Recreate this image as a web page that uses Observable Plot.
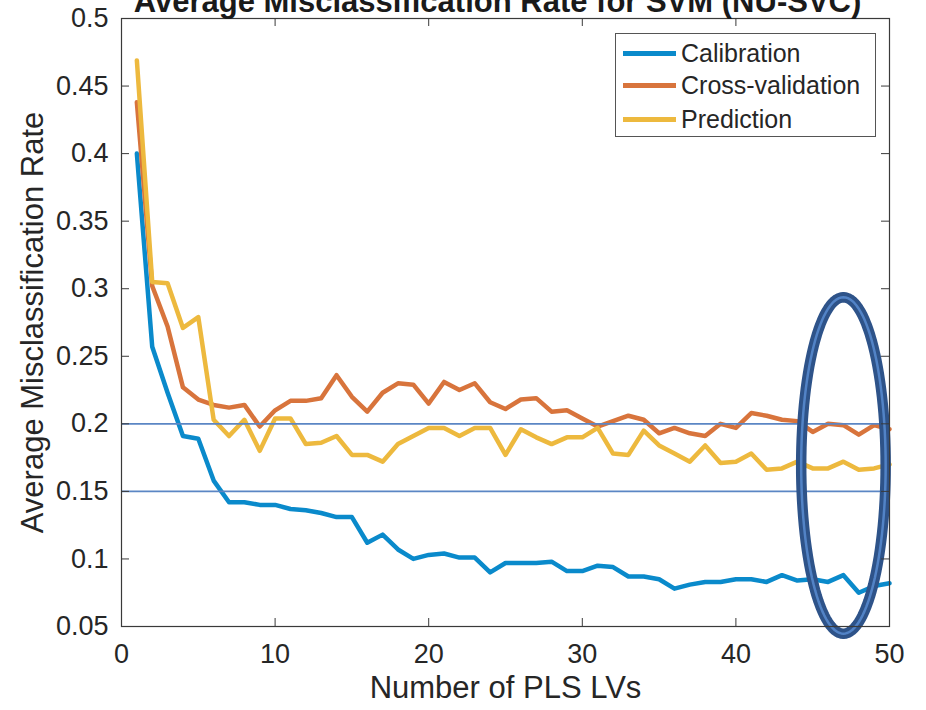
<!DOCTYPE html>
<html>
<head>
<meta charset="utf-8">
<script src="https://cdn.jsdelivr.net/npm/d3@7"></script>
<script src="https://cdn.jsdelivr.net/npm/@observablehq/plot@0.6"></script>
<style>
  html, body { margin: 0; padding: 0; background: #fff; }
  #wrap { position: relative; width: 926px; height: 710px; overflow: hidden; }
  #legend { position: absolute; left: 615px; top: 33px; width: 259px; height: 102px;
    border: 1px solid #555; background: #fff; font-family: "Liberation Sans", Arial, sans-serif;
    font-size: 25px; color: #262626; }
  .row { position: absolute; left: 0; height: 30px; display: flex; align-items: center; }
  .sw { width: 53px; height: 5px; margin-left: 7px; margin-right: 5px; }
</style>
</head>
<body>
<div id="wrap"></div>
<script>
const title = "Average Misclassification Rate for SVM (NU-SVC)";
const xLabel = "Number of PLS LVs";
const yLabel = "Average Misclassification Rate";
const seriesNames = ["Calibration", "Cross-validation", "Prediction"];
const seriesColors = ["#0a8acb", "#d8743c", "#edb93e"];

const lvs = [1,2,3,4,5,6,7,8,9,10,11,12,13,14,15,16,17,18,19,20,21,22,23,24,25,
             26,27,28,29,30,31,32,33,34,35,36,37,38,39,40,41,42,43,44,45,46,47,48,49,50];

const calibration = [0.400,0.257,0.223,0.191,0.189,0.158,0.142,0.142,0.140,0.140,
                     0.137,0.136,0.134,0.131,0.131,0.112,0.118,0.107,0.100,0.103,
                     0.104,0.101,0.101,0.090,0.097,0.097,0.097,0.098,0.091,0.091,
                     0.095,0.094,0.087,0.087,0.085,0.078,0.081,0.083,0.083,0.085,
                     0.085,0.083,0.088,0.084,0.085,0.083,0.088,0.075,0.080,0.082];

const crossValidation = [0.438,0.302,0.272,0.227,0.218,0.214,0.212,0.214,0.198,0.210,
                         0.217,0.217,0.219,0.236,0.220,0.209,0.223,0.230,0.229,0.215,
                         0.231,0.225,0.230,0.216,0.211,0.218,0.219,0.209,0.210,0.204,
                         0.198,0.202,0.206,0.203,0.193,0.197,0.193,0.191,0.200,0.197,
                         0.208,0.206,0.203,0.202,0.194,0.200,0.199,0.192,0.199,0.196];

const prediction = [0.469,0.305,0.304,0.271,0.279,0.203,0.191,0.203,0.180,0.204,
                    0.204,0.185,0.186,0.191,0.177,0.177,0.172,0.185,0.191,0.197,
                    0.197,0.191,0.197,0.197,0.177,0.196,0.190,0.185,0.190,0.190,
                    0.197,0.178,0.177,0.195,0.184,0.178,0.172,0.184,0.171,0.172,
                    0.178,0.166,0.167,0.172,0.167,0.167,0.172,0.166,0.167,0.170];

const xTicks = [0,10,20,30,40,50];
const yTicks = [0.05,0.1,0.15,0.2,0.25,0.3,0.35,0.4,0.45,0.5];
const refLines = [0.2, 0.15];
// highlight ellipse (center / radii in data units)
const ellipseCenter = [47, 0.1692];
const ellipseRadii = [2.75, 0.1245];

const seriesValues = [calibration, crossValidation, prediction];
const rows = [];
seriesValues.forEach((vals, s) => vals.forEach((v, i) => rows.push({lv: lvs[i], value: v, series: seriesNames[s]})));

const ellipsePts = d3.range(0, 361, 3).map(a => {
  const t = a * Math.PI / 180;
  return {x: ellipseCenter[0] + ellipseRadii[0] * Math.cos(t), y: ellipseCenter[1] + ellipseRadii[1] * Math.sin(t)};
});

const W = 926, H = 710, mL = 121, mR = 37, mT = 18, mB = 84;
const pw = W - mL - mR, ph = H - mT - mB;
const tickLen = 8;
const axisColor = "#3a3a3a";

const chart = Plot.plot({
  width: W, height: H,
  marginLeft: mL, marginRight: mR, marginTop: mT, marginBottom: mB,
  x: {domain: [0, 50]},
  y: {domain: [0.05, 0.5]},
  color: {domain: seriesNames, range: seriesColors},
  style: {fontFamily: "'Liberation Sans', Arial, sans-serif", color: "#262626", background: "#fff", overflow: "hidden"},
  marks: [
    Plot.line(rows, {x: "lv", y: "value", z: "series", stroke: "series", strokeWidth: 4.5, strokeLinejoin: "round"}),
    Plot.ruleY(refLines, {stroke: "#5b86c4", strokeWidth: 1.8}),
    Plot.line(ellipsePts, {x: "x", y: "y", stroke: "#2e5389", strokeWidth: 10.5}),
    Plot.line(ellipsePts, {x: "x", y: "y", stroke: "#5283c6", strokeWidth: 2.5}),
    Plot.tickY(yTicks, {insetRight: pw - tickLen, stroke: axisColor}),
    Plot.tickY(yTicks, {insetLeft: pw - tickLen, stroke: axisColor}),
    Plot.tickX(xTicks, {insetTop: ph - tickLen, stroke: axisColor}),
    Plot.tickX(xTicks, {insetBottom: ph - tickLen, stroke: axisColor}),
    Plot.frame({stroke: axisColor, strokeWidth: 1.2}),
    Plot.axisX(xTicks, {tickSize: 0, tickPadding: 17, fontSize: 27, label: null, fill: "#262626"}),
    Plot.axisY(yTicks, {tickSize: 0, tickPadding: 13, fontSize: 27, label: null, fill: "#262626",
      tickFormat: d => String(+d.toFixed(2))}),
    Plot.text([xLabel], {frameAnchor: "bottom", dy: 62, lineAnchor: "middle", fontSize: 31, fill: "#262626"}),
    Plot.text([yLabel], {frameAnchor: "left", textAnchor: "middle", rotate: -90, dx: -88, lineAnchor: "middle", fontSize: 31, fill: "#262626"}),
    Plot.text([title], {frameAnchor: "top", dy: -16, dx: -8, lineAnchor: "middle", fontSize: 31, fontWeight: "bold", fill: "#1a1a1a"})
  ]
});

const wrap = document.getElementById("wrap");
wrap.appendChild(chart);

const legend = document.createElement("div");
legend.id = "legend";
const rowTops = [4, 36, 70];
seriesNames.forEach((name, i) => {
  const r = document.createElement("div");
  r.className = "row";
  r.style.top = rowTops[i] + "px";
  const sw = document.createElement("div");
  sw.className = "sw";
  sw.style.background = seriesColors[i];
  const t = document.createElement("span");
  t.textContent = name;
  r.appendChild(sw); r.appendChild(t);
  legend.appendChild(r);
});
wrap.appendChild(legend);
</script>
</body>
</html>
